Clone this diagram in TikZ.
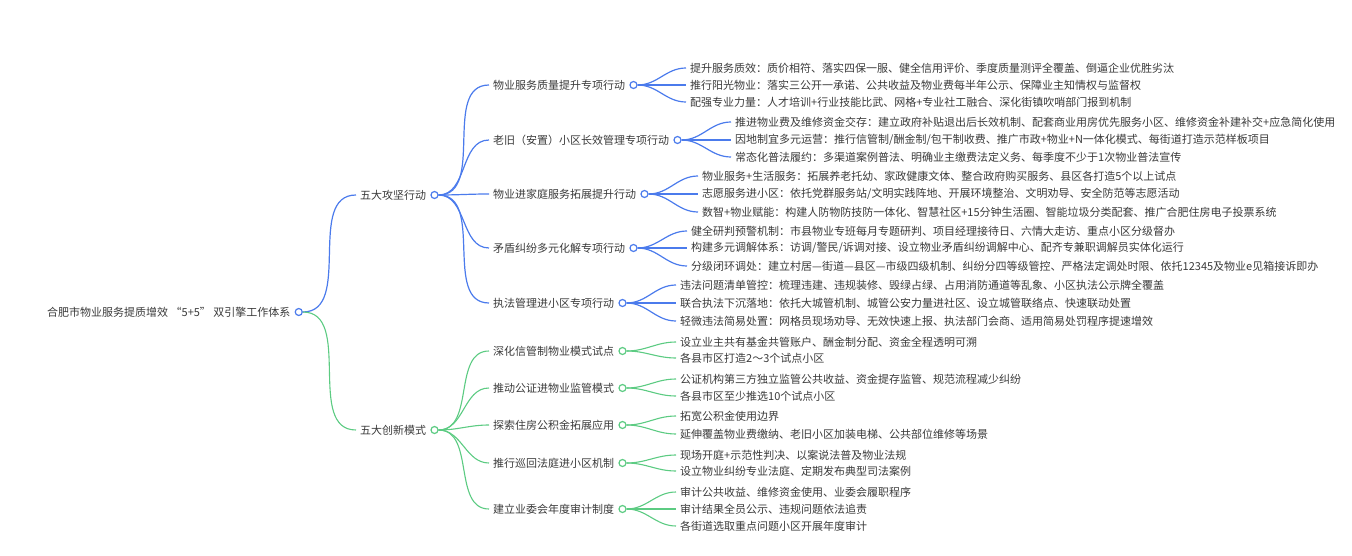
\documentclass[tikz,border=0pt]{standalone}
\usepackage{fontspec}
\setmainfont{Noto Sans CJK SC}
\usepackage{tikz}
\usetikzlibrary{positioning}
\definecolor{Ink}{HTML}{3A3A3A}
\definecolor{Azure}{HTML}{4B7BEC}
\definecolor{Leaf}{HTML}{5CCB82}

\begin{document}
\begin{tikzpicture}[
  x=1pt,y=-1pt,
  txt/.style={anchor=west,inner xsep=4pt,inner ysep=1pt,text=Ink,font=\fontsize{11}{13}\selectfont},
  bdot/.style={circle,draw=Azure,fill=white,line width=1.2pt,inner sep=0pt,minimum size=7pt},
  gdot/.style={bdot,draw=Leaf},
  bline/.style={draw=Azure,line width=1.2pt},
  gline/.style={draw=Leaf,line width=1.1pt}
]
\useasboundingbox (0,0) rectangle (1352,556);
% root and the two engines
\node[txt] (root) at (43,312) {合肥市物业服务提质增效 “5+5” 双引擎工作体系};
\node[txt] (atk) at (356,195) {五大攻坚行动};
\node[txt] (inn) at (356,430) {五大创新模式};

% five actions
\node[txt] (atk1) at (489,85) {物业服务质量提升专项行动};
\node[txt] (atk2) at (489,140) {老旧（安置）小区长效管理专项行动};
\node[txt] (atk3) at (489,194) {物业进家庭服务拓展提升行动};
\node[txt] (atk4) at (489,248) {矛盾纠纷多元化解专项行动};
\node[txt] (atk5) at (489,303) {执法管理进小区专项行动};

\node[txt] (atk1-1) at (686,68) {提升服务质效：质价相符、落实四保一服、健全信用评价、季度质量测评全覆盖、倒逼企业优胜劣汰};
\node[txt] (atk1-2) at (686,85) {推行阳光物业：落实三公开一承诺、公共收益及物业费每半年公示、保障业主知情权与监督权};
\node[txt] (atk1-3) at (686,102) {配强专业力量：人才培训+行业技能比武、网格+专业社工融合、深化街镇吹哨部门报到机制};

\node[txt] (atk2-1) at (731,122) {推进物业费及维修资金交存：建立政府补贴退出后长效机制、配套商业用房优先服务小区、维修资金补建补交+应急简化使用};
\node[txt] (atk2-2) at (731,140) {因地制宜多元运营：推行信管制/酬金制/包干制收费、推广市政+物业+N一体化模式、每街道打造示范样板项目};
\node[txt] (atk2-3) at (731,157) {常态化普法履约：多渠道案例普法、明确业主缴费法定义务、每季度不少于1次物业普法宣传};

\node[txt] (atk3-1) at (698,176) {物业服务+生活服务：拓展养老托幼、家政健康文体、整合政府购买服务、县区各打造5个以上试点};
\node[txt] (atk3-2) at (698,194) {志愿服务进小区：依托党群服务站/文明实践阵地、开展环境整治、文明劝导、安全防范等志愿活动};
\node[txt] (atk3-3) at (698,212) {数智+物业赋能：构建人防物防技防一体化、智慧社区+15分钟生活圈、智能垃圾分类配套、推广合肥住房电子投票系统};

\node[txt] (atk4-1) at (687,231) {健全研判预警机制：市县物业专班每月专题研判、项目经理接待日、六情大走访、重点小区分级督办};
\node[txt] (atk4-2) at (687,248) {构建多元调解体系：访调/警民/诉调对接、设立物业矛盾纠纷调解中心、配齐专兼职调解员实体化运行};
\node[txt] (atk4-3) at (687,266) {分级闭环调处：建立村居—街道—县区—市级四级机制、纠纷分四等级管控、严格法定调处时限、依托12345及物业e见箱接诉即办};

\node[txt] (atk5-1) at (676,285) {违法问题清单管控：梳理违建、违规装修、毁绿占绿、占用消防通道等乱象、小区执法公示牌全覆盖};
\node[txt] (atk5-2) at (676,303) {联合执法下沉落地：依托大城管机制、城管公安力量进社区、设立城管联络点、快速联动处置};
\node[txt] (atk5-3) at (676,321) {轻微违法简易处置：网格员现场劝导、无效快速上报、执法部门会商、适用简易处罚程序提速增效};

% five modes
\node[txt] (inn1) at (489,351) {深化信管制物业模式试点};
\node[txt] (inn2) at (489,388) {推动公证进物业监管模式};
\node[txt] (inn3) at (489,425) {探索住房公积金拓展应用};
\node[txt] (inn4) at (489,463) {推行巡回法庭进小区机制};
\node[txt] (inn5) at (489,509) {建立业委会年度审计制度};

\node[txt] (inn1-1) at (676,342) {设立业主共有基金共管账户、酬金制分配、资金全程透明可溯};
\node[txt] (inn1-2) at (676,358) {各县市区打造2～3个试点小区};
\node[txt] (inn2-1) at (676,379) {公证机构第三方独立监管公共收益、资金提存监管、规范流程减少纠纷};
\node[txt] (inn2-2) at (676,396) {各县市区至少推选10个试点小区};
\node[txt] (inn3-1) at (676,416) {拓宽公积金使用边界};
\node[txt] (inn3-2) at (676,434) {延伸覆盖物业费缴纳、老旧小区加装电梯、公共部位维修等场景};
\node[txt] (inn4-1) at (676,455) {现场开庭+示范性判决、以案说法普及物业法规};
\node[txt] (inn4-2) at (676,471) {设立物业纠纷专业法庭、定期发布典型司法案例};
\node[txt] (inn5-1) at (676,492) {审计公共收益、维修资金使用、业委会履职程序};
\node[txt] (inn5-2) at (676,509) {审计结果全员公示、违规问题依法追责};
\node[txt] (inn5-3) at (676,526) {各街道选取重点问题小区开展年度审计};

% dots and connectors
\node[bdot,right=0pt of root] (root-o) {};
\node[bdot,right=0pt of atk] (atk-o) {};
\node[gdot,right=0pt of inn] (inn-o) {};
\draw[bline] (root-o.east) to[out=0,in=180] (atk.west);
\draw[gline] (root-o.east) to[out=0,in=180] (inn.west);
\foreach \i in {1,...,5}{
  \node[bdot,right=0pt of atk\i] (atk\i-o) {};
  \node[gdot,right=0pt of inn\i] (inn\i-o) {};
  \draw[bline] (atk-o.east) to[out=0,in=180] (atk\i.west);
  \draw[gline] (inn-o.east) to[out=0,in=180] (inn\i.west);
  \foreach \j in {1,2,3}
    \draw[bline] (atk\i-o.east) to[out=0,in=180] (atk\i-\j.west);
  \foreach \j in {1,2}
    \draw[gline] (inn\i-o.east) to[out=0,in=180] (inn\i-\j.west);
}
\draw[gline] (inn5-o.east) to[out=0,in=180] (inn5-3.west);
\end{tikzpicture}
\end{document}
